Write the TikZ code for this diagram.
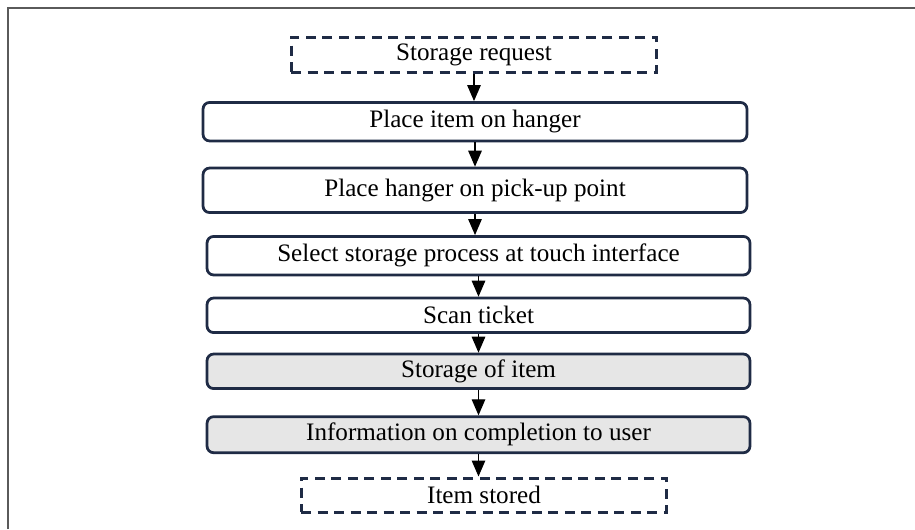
\documentclass[tikz,border=0pt]{standalone}
\usepackage{fontspec}
\setmainfont{Liberation Serif}
\usepackage{xcolor}
\usepackage{tikz}
\usetikzlibrary{positioning,arrows.meta}

\definecolor{boxnavy}{HTML}{1F2B45}
\definecolor{boxgrey}{HTML}{E6E6E6}
\definecolor{framegrey}{HTML}{5A5A5A}

\tikzset{
    stepbox/.style={draw=boxnavy, line width=0.055cm, rounded corners=0.13cm,
        fill=white, minimum width=10.88cm, inner sep=0pt,
        font=\fontsize{14.3}{17}\selectfont},
    greybox/.style={stepbox, fill=boxgrey},
    endbox/.style={draw=boxnavy, line width=0.06cm, dash pattern=on 0.2cm off 0.13cm,
        minimum width=7.32cm, minimum height=0.7cm, inner sep=0pt,
        font=\fontsize{14.3}{17}\selectfont},
    flow/.style={-{Triangle[length=0.32cm, width=0.27cm]}, line width=0.025cm, black}
}

\begin{document}
\begin{tikzpicture}[x=0.02cm, y=-0.02cm]
    \useasboundingbox (0, 0) rectangle (915, 529);

    % outer frame
    \coordinate (F0) at (8, 529);
    \coordinate (F1) at (8, 8);
    \coordinate (F2) at (915, 8);
    \draw [framegrey, line width=0.04cm] (F0) -- (F1) -- (F2);

    \coordinate (D1) at (474, 54.5);
    \coordinate (B1) at (475, 121.7);
    \coordinate (B2) at (475, 190.3);
    \coordinate (B3) at (478.5, 255.7);
    \coordinate (B4) at (478.5, 315.3);
    \coordinate (B5) at (478.5, 371.3);
    \coordinate (B6) at (478.5, 434.7);
    \coordinate (D2) at (484, 495);

    \node [endbox] (request) at (D1) {Storage request};
    \node [stepbox, minimum height=0.77cm] (hang) at (B1) {Place item on hanger};
    \node [stepbox, minimum height=0.89cm] (pickup) at (B2) {Place hanger on pick-up point};
    \node [stepbox, minimum width=10.86cm, minimum height=0.77cm] (select) at (B3) {Select storage process at touch interface};
    \node [stepbox, minimum width=10.86cm, minimum height=0.69cm] (scan) at (B4) {Scan ticket};
    \node [greybox, minimum width=10.86cm, minimum height=0.69cm] (store) at (B5) {Storage of item};
    \node [greybox, minimum width=10.86cm, minimum height=0.72cm] (inform) at (B6) {Information on completion to user};
    \node [endbox, minimum height=0.68cm] (stored) at (D2) {Item stored};

    \draw [flow] (request.south) -- (request.south |- hang.north);
    \draw [flow] (hang.south) -- (hang.south |- pickup.north);
    \draw [flow] (pickup.south) -- (pickup.south |- select.north);
    \draw [flow] (select.south) -- (select.south |- scan.north);
    \draw [flow] (scan.south) -- (scan.south |- store.north);
    \draw [flow] (store.south) -- (store.south |- inform.north);
    \draw [flow] (inform.south) -- (inform.south |- stored.north);
\end{tikzpicture}
\end{document}
